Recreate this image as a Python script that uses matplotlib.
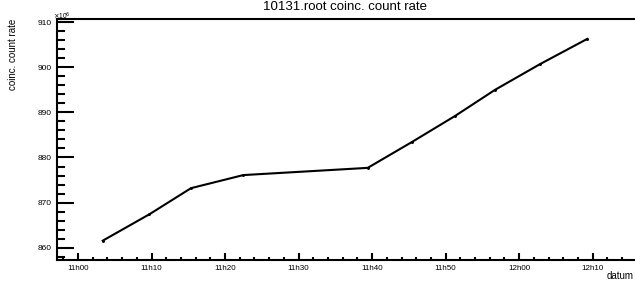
import matplotlib
matplotlib.use("Agg")
import matplotlib.pyplot as plt
from matplotlib.ticker import MultipleLocator, FuncFormatter

# data: time (minutes after 11h00) and coinc. count rate (x10^6)
times_min = [3.36, 9.70, 15.37, 22.48, 39.40, 45.38, 51.27, 56.71, 62.83, 69.26]
rates = [861.55, 867.4, 873.2, 876.1, 877.7, 883.4, 889.2, 895.0, 900.7, 906.3]

title = "10131.root coinc. count rate"
ylabel = "coinc. count rate"
xlabel = "datum"

W, H = 635, 283
fig = plt.figure(figsize=(W / 100, H / 100), dpi=100)
plt.rcParams['font.family'] = ['Liberation Sans', 'DejaVu Sans']

left, right, top, bottom = 57, 635, 19, 260
ax = fig.add_axes([left / W, 1 - bottom / H, (right - left) / W, (bottom - top) / H])

ax.plot(times_min, rates, color='black', lw=1.5, marker='o', ms=1.1, solid_joinstyle='miter')

ax.set_xlim(-2.856, 75.75)
ax.set_ylim(857.27, 910.71)

for s in ['left', 'bottom', 'top']:
    ax.spines[s].set_linewidth(1.5)
ax.spines['right'].set_visible(False)

ax.xaxis.set_major_locator(MultipleLocator(10))
ax.xaxis.set_minor_locator(MultipleLocator(2))
ax.yaxis.set_major_locator(MultipleLocator(10))
ax.yaxis.set_minor_locator(MultipleLocator(2))


def fmt_time(v, pos):
    total = int(round(v)) + 11 * 60
    return f"{total // 60}h{total % 60:02d}"


ax.xaxis.set_major_formatter(FuncFormatter(fmt_time))
ax.yaxis.set_major_formatter(FuncFormatter(lambda v, p: f"{v:.0f}"))

ax.tick_params(axis='y', which='major', direction='in', length=12, width=1.5, labelsize=6, pad=4)
ax.tick_params(axis='y', which='minor', direction='in', length=6, width=1.5)
ax.tick_params(axis='x', which='major', direction='in', length=5, width=1.5, labelsize=5.8, pad=3.8)
ax.tick_params(axis='x', which='minor', direction='in', length=2.3, width=1.5)
ax.tick_params(top=False, right=False, which='both')

fig.text(345 / W, 1 - 10 / H, title, ha='center', va='baseline', fontsize=9.5)
fig.text(53 / W, 1 - 19 / H, r"$\times$10$^{6}$", ha='left', va='baseline', fontsize=4.8)
fig.text(13 / W, 1 - 19 / H, ylabel, rotation=90, ha='center', va='top', fontsize=7)
fig.text(634 / W, 1 - 279 / H, xlabel, ha='right', va='baseline', fontsize=7)

fig.savefig("out.png", dpi=100)
